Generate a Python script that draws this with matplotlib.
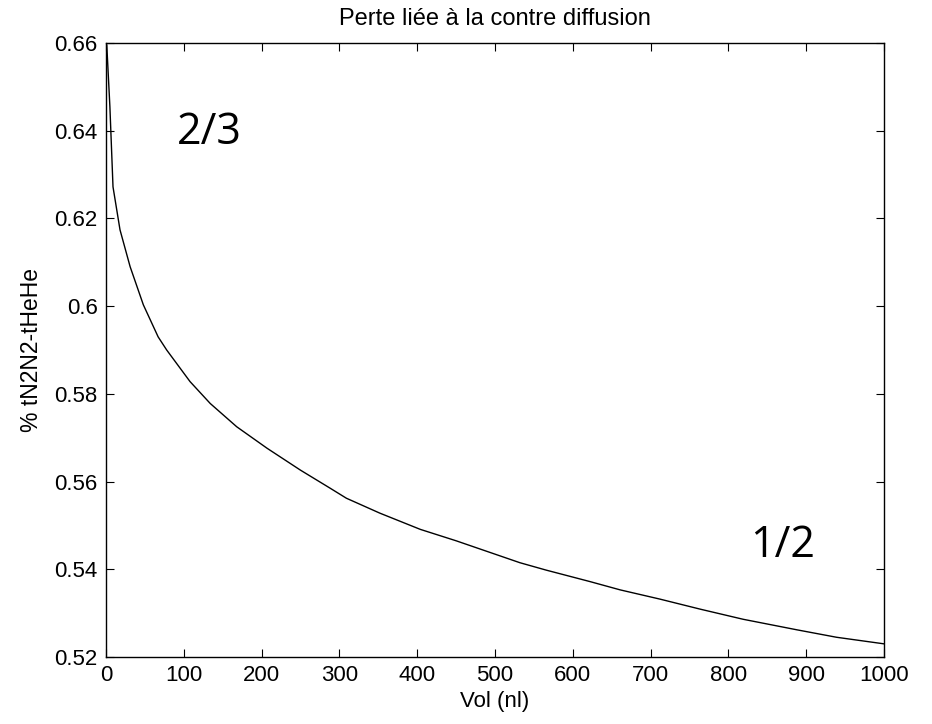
import matplotlib
matplotlib.use("Agg")
from matplotlib import pyplot as plt

# values
vol = [0, 1, 5, 9, 18, 31, 48, 67, 78, 108, 134, 168, 207, 250, 288, 309,
       352, 404, 450, 532, 566, 622, 661, 712, 764, 819, 888, 939, 1000]
perte = [0.6600, 0.6595, 0.6455, 0.6272, 0.6174, 0.6090, 0.6003, 0.5930,
         0.5900, 0.5828, 0.5778, 0.5725, 0.5676, 0.5626, 0.5585, 0.5562,
         0.5528, 0.5491, 0.5465, 0.5415, 0.5398, 0.5372, 0.5353, 0.5332,
         0.5309, 0.5286, 0.5262, 0.5245, 0.5230]

xticks = list(range(0, 1001, 100))
yticks = [0.52, 0.54, 0.56, 0.58, 0.6, 0.62, 0.64, 0.66]
yticklabels = ["0.52", "0.54", "0.56", "0.58", "0.6", "0.62", "0.64", "0.66"]

plt.rcParams['font.family'] = ['Liberation Sans', 'DejaVu Sans']

fig = plt.figure(figsize=(9.32, 7.24), dpi=100)
ax = fig.add_axes([106 / 932, 67 / 724, 778 / 932, 614 / 724])

ax.plot(vol, perte, color='k', linewidth=1.0)

ax.set_xlim(0, 1000)
ax.set_ylim(0.52, 0.66)
ax.set_xticks(xticks)
ax.set_yticks(yticks)
ax.set_yticklabels(yticklabels)
ax.tick_params(direction='in', length=6, width=0.8, top=True, right=True,
               labelsize=16, pad=6)
for s in ax.spines.values():
    s.set_linewidth(1.0)

ax.set_title("Perte liée à la contre diffusion", fontsize=17, pad=13)
ax.set_xlabel("Vol (nl)", fontsize=16, labelpad=3)
ax.set_ylabel("% tN2N2-tHeHe", fontsize=16.5, labelpad=8)

ax.text(91, 0.6395, "2/3", fontsize=31, family=['Open Sans', 'DejaVu Sans'],
        va='center', ha='left')
ax.text(828, 0.5453, "1/2", fontsize=31, family=['Open Sans', 'DejaVu Sans'],
        va='center', ha='left')

fig.savefig("out.png", dpi=100)
